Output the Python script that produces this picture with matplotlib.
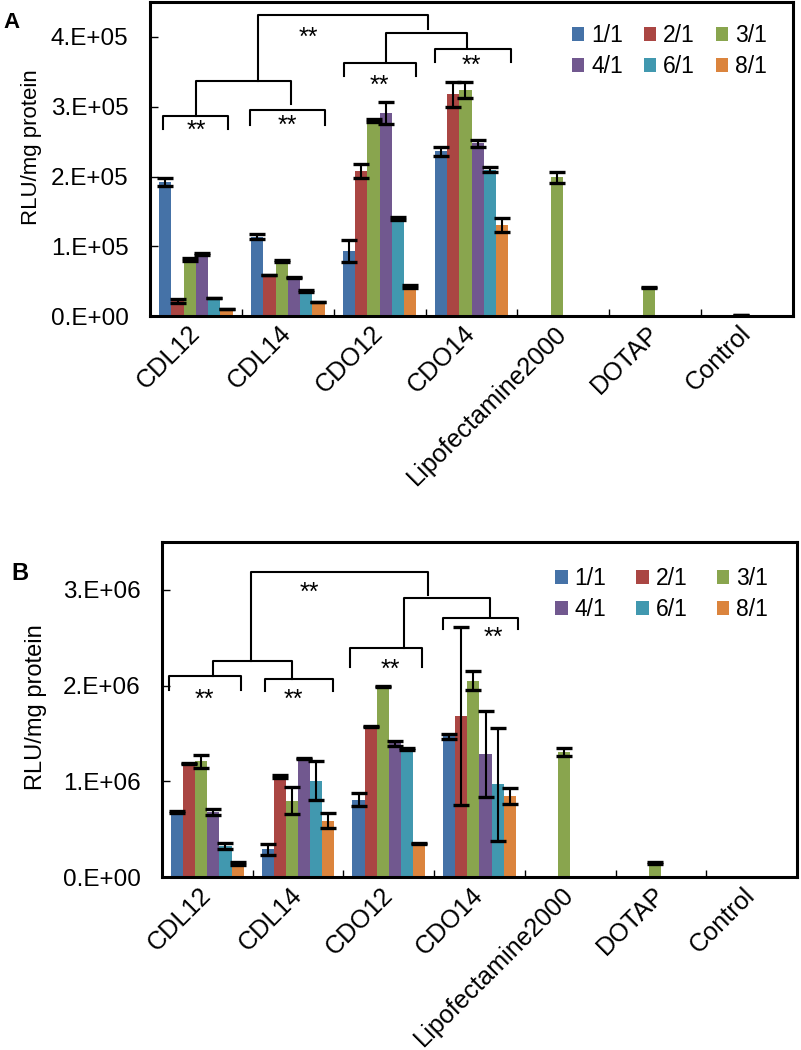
import numpy as np
import matplotlib
matplotlib.use("Agg")
import matplotlib.pyplot as plt

plt.rcParams['font.family'] = ['Liberation Sans', 'DejaVu Sans']

categories = ['CDL12', 'CDL14', 'CDO12', 'CDO14', 'Lipofectamine2000', 'DOTAP', 'Control']
ratios = ['1/1', '2/1', '3/1', '4/1', '6/1', '8/1']
colors = ['#4572A7', '#AA4643', '#89A54E', '#71588F', '#4198AF', '#DB843D']

# panel A, RLU/mg protein, one list per ratio (order follows categories)
a_11 = [1.92e5, 1.14e5, 0.93e5, 2.36e5, 0, 0, 0]
a_21 = [0.22e5, 0.59e5, 2.08e5, 3.18e5, 0, 0, 0]
a_31 = [0.81e5, 0.79e5, 2.80e5, 3.24e5, 1.99e5, 0.41e5, 0.015e5]
a_41 = [0.89e5, 0.55e5, 2.91e5, 2.48e5, 0, 0, 0]
a_61 = [0.26e5, 0.36e5, 1.40e5, 2.10e5, 0, 0, 0]
a_81 = [0.10e5, 0.20e5, 0.42e5, 1.30e5, 0, 0, 0]
a_11_err = [0.06e5, 0.03e5, 0.16e5, 0.06e5, 0, 0, 0]
a_21_err = [0.03e5, 0.005e5, 0.10e5, 0.18e5, 0, 0, 0]
a_31_err = [0.02e5, 0.02e5, 0.02e5, 0.12e5, 0.08e5, 0.005e5, 0.005e5]
a_41_err = [0.01e5, 0.005e5, 0.16e5, 0.05e5, 0, 0, 0]
a_61_err = [0.005e5, 0.01e5, 0.02e5, 0.03e5, 0, 0, 0]
a_81_err = [0.005e5, 0.005e5, 0.02e5, 0.10e5, 0, 0, 0]

# panel B
b_11 = [0.68e6, 0.29e6, 0.81e6, 1.47e6, 0, 0, 0]
b_21 = [1.19e6, 1.05e6, 1.57e6, 1.68e6, 0, 0, 0]
b_31 = [1.21e6, 0.80e6, 1.99e6, 2.05e6, 1.31e6, 0.15e6, 0]
b_41 = [0.68e6, 1.24e6, 1.40e6, 1.29e6, 0, 0, 0]
b_61 = [0.33e6, 1.01e6, 1.34e6, 0.97e6, 0, 0, 0]
b_81 = [0.14e6, 0.59e6, 0.35e6, 0.85e6, 0, 0, 0]
b_11_err = [0.01e6, 0.06e6, 0.07e6, 0.025e6, 0, 0, 0]
b_21_err = [0.005e6, 0.015e6, 0.005e6, 0.93e6, 0, 0, 0]
b_31_err = [0.07e6, 0.14e6, 0.008e6, 0.10e6, 0.04e6, 0.008e6, 0]
b_41_err = [0.035e6, 0.008e6, 0.025e6, 0.45e6, 0, 0, 0]
b_61_err = [0.03e6, 0.20e6, 0.008e6, 0.59e6, 0, 0, 0]
b_81_err = [0.015e6, 0.08e6, 0.005e6, 0.08e6, 0, 0, 0]

a_yticks = [0, 1e5, 2e5, 3e5, 4e5]
a_yticklabels = ['0.E+00', '1.E+05', '2.E+05', '3.E+05', '4.E+05']
b_yticks = [0, 1e6, 2e6, 3e6]
b_yticklabels = ['0.E+00', '1.E+06', '2.E+06', '3.E+06']

# significance brackets: (x_left, x_right, y_bar, y_left_end, y_right_end)
a_brackets = [(-0.36, 0.35, 2.87e5, 2.68e5, 2.68e5),
              (0.59, 1.40, 2.95e5, 2.74e5, 2.74e5),
              (0.0, 1.03, 3.37e5, 2.87e5, 3.04e5),
              (0.68, 2.53, 4.32e5, 3.37e5, 4.11e5),
              (1.61, 2.40, 3.63e5, 3.44e5, 3.44e5),
              (2.60, 3.43, 3.83e5, 3.64e5, 3.64e5),
              (2.07, 2.95, 4.06e5, 3.66e5, 3.86e5)]
a_stars = [(0.0, 2.73e5), (1.0, 2.81e5), (2.0, 3.38e5), (3.0, 3.67e5), (1.22, 4.07e5)]

b_brackets = [(-0.42, 0.37, 2.10e6, 1.95e6, 1.95e6),
              (0.64, 1.39, 2.07e6, 1.94e6, 1.94e6),
              (0.06, 0.93, 2.26e6, 2.10e6, 2.07e6),
              (0.48, 2.43, 3.19e6, 2.26e6, 2.95e6),
              (1.57, 2.37, 2.39e6, 2.20e6, 2.20e6),
              (2.60, 3.42, 2.71e6, 2.59e6, 2.59e6),
              (2.17, 3.12, 2.92e6, 2.39e6, 2.73e6)]
b_stars = [(-0.03, 1.91e6), (0.95, 1.91e6), (2.02, 2.22e6), (3.15, 2.56e6), (1.13, 3.03e6)]


def draw_panel(ax, series, errs, ymax, yticks, yticklabels, brackets, stars,
               leg_xy, colspace, ylab_xy, ylab_size):
  x = np.arange(len(categories))
  w = 0.8 / len(ratios)
  handles = []
  for i, (vals, err) in enumerate(zip(series, errs)):
    vals, err = np.array(vals), np.array(err)
    pos = x + (i - 2.5) * w
    h = ax.bar(pos, vals, width=w, color=colors[i], label=ratios[i], zorder=2)
    handles.append(h)
    m = err > 0
    ax.errorbar(pos[m], vals[m], yerr=err[m], fmt='none', ecolor='black',
                elinewidth=1.5, capsize=5.5, capthick=2.4, zorder=3)
  for x0, x1, yb, yl, yr in brackets:
    ax.plot([x0, x0, x1, x1], [yl, yb, yb, yr], color='black', lw=1.5, zorder=4)
  for sx, sy in stars:
    ax.annotate('**', (sx, sy), xytext=(0, -4), textcoords='offset points',
                ha='center', va='center', fontsize=18)

  ax.set_xlim(-0.5, len(categories) - 0.5)
  ax.set_ylim(0, ymax)
  ax.set_yticks(yticks)
  ax.set_yticklabels(yticklabels, fontsize=17.5)
  ax.tick_params(axis='y', direction='in', length=6, width=1, pad=15.5)
  ax.set_xticks(x)
  ax.set_xticklabels(categories, fontsize=18.2, rotation=45, ha='right',
                     va='center', rotation_mode='anchor')
  ax.tick_params(axis='x', which='major', length=0, pad=10)
  ax.set_xticks(np.arange(0.5, len(categories) - 0.5, 1), minor=True)
  ax.tick_params(axis='x', which='minor', direction='in', length=5, width=1)
  for spine in ax.spines.values():
    spine.set_linewidth(2.2)
  ax.set_ylabel('RLU/mg protein', fontsize=ylab_size)
  ax.yaxis.set_label_coords(*ylab_xy)

  order = [0, 3, 1, 4, 2, 5]
  ax.legend([handles[k] for k in order], [ratios[k] for k in order], ncol=3,
            loc='upper left', bbox_to_anchor=leg_xy, frameon=False,
            fontsize=16.5, handlelength=0.55, handleheight=0.55,
            handletextpad=0.3, columnspacing=colspace, labelspacing=0.34,
            borderpad=0, borderaxespad=0)


fig = plt.figure(figsize=(8.01, 10.5), dpi=100)
ax_a = fig.add_axes([0.1873, 0.699, 0.8027, 0.299])
ax_b = fig.add_axes([0.2022, 0.1645, 0.7928, 0.3193])

draw_panel(ax_a, [a_11, a_21, a_31, a_41, a_61, a_81],
           [a_11_err, a_21_err, a_31_err, a_41_err, a_61_err, a_81_err],
           4.5e5, a_yticks, a_yticklabels, a_brackets, a_stars,
           (0.656, 0.93), 0.9, (-0.168, 0.538), 16)
draw_panel(ax_b, [b_11, b_21, b_31, b_41, b_61, b_81],
           [b_11_err, b_21_err, b_31_err, b_41_err, b_61_err, b_81_err],
           3.5e6, b_yticks, b_yticklabels, b_brackets, b_stars,
           (0.619, 0.925), 1.29, (-0.181, 0.509), 17)

fig.text(0.014, 0.979, 'A', fontsize=16, fontweight='bold', ha='center', va='center')
fig.text(0.025, 0.454, 'B', fontsize=17, fontweight='bold', ha='center', va='center')

fig.savefig('out.png', dpi=100)
